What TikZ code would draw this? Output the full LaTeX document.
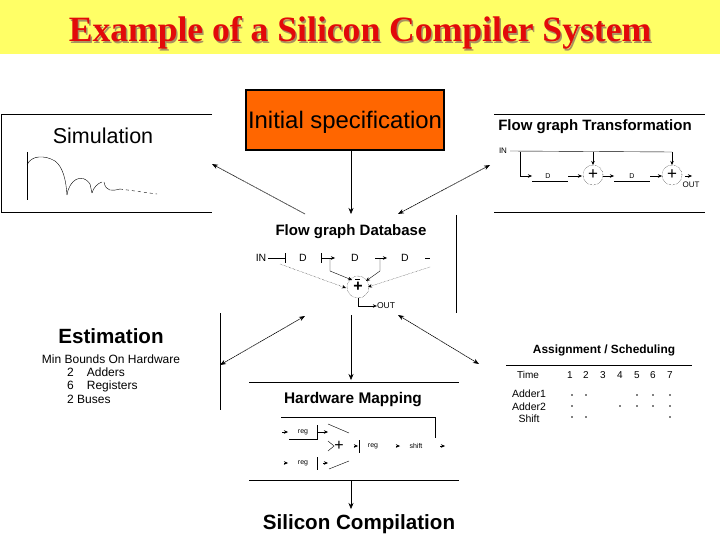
\documentclass[tikz,border=0pt]{standalone}
\usepackage{fontspec}
\setmainfont{Liberation Sans}
\newfontfamily\titlefont{Liberation Serif}
\usetikzlibrary{positioning, arrows.meta, calc}
\definecolor{bandyellow}{HTML}{FFFF66}
\definecolor{specorange}{HTML}{FF6600}
\definecolor{titlered}{HTML}{E20A0A}
\definecolor{titleshade}{HTML}{A89060}
\tikzset{
  panelhead/.style={inner sep=0pt, font=\bfseries\fontsize{15}{17}\selectfont},
  bighead/.style={inner sep=0pt, font=\bfseries\fontsize{20.6}{22}\selectfont},
  smalltext/.style={inner sep=0pt, font=\fontsize{10.5}{12}\selectfont},
  tinytext/.style={inner sep=0pt, font=\fontsize{7}{8}\selectfont},
  boundstext/.style={inner sep=0pt, font=\fontsize{12}{13}\selectfont},
  gridtext/.style={inner sep=0pt, font=\fontsize{10}{11}\selectfont},
  minitip/.style={-{Stealth[length=4pt,width=3.5pt]}, thin},
  rule/.style={-, line width=1pt},
  bigarrow/.style={{Stealth[length=6pt,width=4.5pt]}-{Stealth[length=6pt,width=4.5pt]}, dash pattern=on 1.6pt off .5pt, line width=.6pt},
  tailarrow/.style={{Stealth[length=6pt,width=4.5pt]}-, dash pattern=on 1.6pt off .5pt, line width=.6pt},
  downarrow/.style={-{Stealth[length=6pt,width=5pt]}, thin},
  slot/.style={circle, fill=black, inner sep=0pt, minimum size=1.6pt}
}
\begin{document}
\begin{tikzpicture}[x=1pt, y=-1pt, >=Stealth]
  \useasboundingbox (0,0) rectangle (720,540);
  \fill[bandyellow] (0,0) rectangle (720,54);
  % title with its shadow
  \node[inner sep=0pt, text=titleshade, font=\titlefont\bfseries\fontsize{35.6}{37}\selectfont] (titleshadow) at (361.5,34.5) {Example of a Silicon Compiler System};
  \node[inner sep=0pt, text=titlered, font=\titlefont\bfseries\fontsize{35.6}{37}\selectfont] (title) at (360,33) {Example of a Silicon Compiler System};

  \node[draw, line width=1.5pt, fill=specorange, minimum width=198pt, minimum height=60pt, font=\fontsize{23.9}{25}\selectfont, inner sep=0pt, text depth=0pt] (spec) at (345,120) {Initial specification};

  % simulation
  \draw[rule] (212,115) -- (1,115) -- (1,213) -- (212,213);
  \node[inner sep=0pt, font=\fontsize{21.5}{23}\selectfont] (simulation) at (103,136) {Simulation};
  \draw[-, thin] (27,152) -- (27,200);
  \draw[-, thin] (27,165) .. controls (31,155) and (45,155) .. (55,161) .. controls (63,167) and (66,180) .. (67,195);
  \draw[-, thin] (67,195) .. controls (69,180) and (82,172) .. (90,184) -- (92,193);
  \draw[-, thin] (92,193) .. controls (93,188) and (98,183) .. (102,182);
  \draw[-, thin] (104,182) .. controls (106,192) and (112,191) .. (120,189);
  \draw[-, thin, dashed] (120,189) -- (157,194);

  % transformation
  \draw[rule] (494,115) -- (705,115);
  \draw[rule] (494,213) -- (705,213);
  \node[panelhead] (transform) at (595,127) {Flow graph Transformation};
  \node[tinytext, font=\fontsize{8}{9}\selectfont] (tin) at (503,151) {IN};
  \coordinate (tsplit) at (520,152);
  \node[tinytext] (td1) at (548,176) {D};
  \node[tinytext] (td2) at (632,176) {D};
  \node[inner sep=0pt, font=\fontsize{17}{17}\selectfont] (tplus1) at (593,175) {+};
  \node[inner sep=0pt, font=\fontsize{17}{17}\selectfont] (tplus2) at (672,175) {+};
  \node[tinytext, font=\fontsize{8}{9}\selectfont] (tout) at (691,185) {OUT};
  \draw[-, thin] (tin.east) ++(3,0) -- (672,152) coordinate (tend);
  \draw[minitip] (tsplit) |- (532,176);
  \draw[minitip] (593,152) -- (593,165);
  \draw[minitip] (tend) -- (672,165);
  \draw[-, thin] (532,181) -- (568,181);
  \draw[-, thin] (614,181) -- (650,181);
  \draw[minitip] (568,176) -- (582,176);
  \draw[minitip] (603,176) -- (614,176);
  \draw[minitip] (650,176) -- (662,176);
  \draw[minitip] (685,176) -- (692,176);
  \draw[-, densely dotted] (593,175) circle (10);
  \draw[-, densely dotted] (672,175) circle (10);

  % database
  \node[panelhead] (database) at (351,232) {Flow graph Database};
  \draw[rule] (456,215) -- (456,313);
  \node[smalltext] (dbin) at (261,258) {IN};
  \node[smalltext] (dbd1) at (303,258) {D};
  \node[smalltext] (dbd2) at (355,258) {D};
  \node[smalltext] (dbd3) at (405,258) {D};
  \node[inner sep=0pt, font=\bfseries\fontsize{16}{16}\selectfont] (dbplus) at (358,287) {+};
  \node[smalltext, font=\fontsize{8.5}{9}\selectfont] (dbout) at (386,306) {OUT};
  \draw[-, thin] (dbin.east) ++(2,0) -- (285,258);
  \draw[-, thin] (285,253) -- (285,263);
  \draw[-, thin] (321,253) -- (321,263);
  \draw[-, thin] (425,258) -- (430,258);
  \draw[minitip] (321,258) -- (335,258);
  \draw[minitip] (375,258) -- (387,258);
  \draw[minitip] (330,258) -- (330,271) -- (352,280);
  \draw[minitip] (380,258) -- (380,271) -- (366,281);
  \draw[minitip, densely dotted] (280,264) -- (346,288);
  \draw[minitip, densely dotted] (430,267) -- (368,287);
  \draw[-, densely dotted] (dbplus) circle (11);
  \draw[minitip] (358,298) |- (dbout.west);
  \draw[-, thin] (355,279) -- (360,279);

  % estimation
  \node[bighead] (estimation) at (111,336) {Estimation};
  \draw[rule] (220,313) -- (220,410);
  \node[boundstext] (bounds) at (111,359) {Min Bounds On Hardware};
  \node[boundstext, anchor=west] (adders) at (67,372) {2\hspace{13pt}Adders};
  \node[boundstext, anchor=west] (registers) at (67,386) {6\hspace{13pt}Registers};
  \node[boundstext, anchor=west] (buses) at (67,399) {2 Buses};

  % scheduling
  \node[inner sep=0pt, font=\bfseries\fontsize{11.9}{13}\selectfont] (assign) at (604,350) {Assignment / Scheduling};
  \draw[rule] (506,365) -- (692,365);
  \node[gridtext] (time) at (528,375) {Time};
  \foreach \n/\xpos in {1/570,2/586,3/603,4/620,5/637,6/653,7/670}
    \node[gridtext] (t\n) at (\xpos,375) {\n};
  \node[gridtext, font=\fontsize{10.5}{11}\selectfont] (adder1) at (529,393.5) {Adder1};
  \node[gridtext, font=\fontsize{10.5}{11}\selectfont] (adder2) at (529,406.5) {Adder2};
  \node[gridtext, font=\fontsize{10.5}{11}\selectfont] (shift) at (529,419) {Shift};
  \foreach \xpos in {572,586,637,653,670} \node[slot] at (\xpos,395) {};
  \foreach \xpos in {572,620,637,653,670} \node[slot] at (\xpos,406) {};
  \foreach \xpos in {572,586,670} \node[slot] at (\xpos,417) {};

  % hardware
  \draw[rule] (249,382) -- (459,382);
  \draw[rule] (249,480) -- (459,480);
  \node[inner sep=0pt, font=\bfseries\fontsize{15.4}{17}\selectfont] (hardware) at (353,400) {Hardware Mapping};
  \node[tinytext] (hwreg1) at (303,432) {reg};
  \node[tinytext] (hwreg2) at (303,463) {reg};
  \node[tinytext] (hwreg3) at (373,446) {reg};
  \node[tinytext] (hwshift) at (416,446) {shift};
  \node[inner sep=0pt, font=\fontsize{16}{16}\selectfont] (hwplus) at (339,446) {+};
  \draw[-, thin] (281,417) -- (435,417) -- (435,438);
  \draw[-, thin] (289,439) -- (317,439) -- (317,425);
  \draw[-, thin] (317,457) -- (317,470);
  \draw[-, thin] (359,440) -- (359,453);
  \draw[-, thin] (328,424) -- (349,433);
  \draw[-, thin] (329,469) -- (349,461);
  \draw[-, thin] (328,441) -- (334,446) -- (328,451);
  \foreach \xa/\ya/\xb in {282/432/288, 317/432/328, 354/446/358, 396/446/400, 440/446/445, 284/463/288, 323/463/328}
    \draw[minitip] (\xa,\ya) -- (\xb,\ya);

  % silicon
  \node[bighead] (silicon) at (359,524) {Silicon Compilation};

  % main connectors
  \coordinate (dbtop) at (351,214);
  \coordinate (dbbottom) at (351,315);
  \coordinate (hwtop) at (351,380);
  \coordinate (hwbottom) at (351,481);
  \coordinate (siltop) at (351,509);
  \draw[downarrow] (spec.south -| dbtop) -- (dbtop);
  \draw[downarrow] (dbbottom) -- (hwtop);
  \draw[downarrow] (hwbottom) -- (siltop);
  \coordinate (simend) at (212,164);
  \coordinate (dbnw) at (305,214);
  \coordinate (transend) at (490,165);
  \coordinate (dbne) at (398,214);
  \coordinate (estend) at (220,365);
  \coordinate (dbsw) at (305,316);
  \coordinate (schedend) at (479,364);
  \coordinate (dbse) at (398,315);
  \draw[tailarrow] (simend) -- (dbnw);
  \draw[bigarrow] (transend) -- (dbne);
  \draw[bigarrow] (estend) -- (dbsw);
  \draw[bigarrow] (schedend) -- (dbse);
\end{tikzpicture}
\end{document}
